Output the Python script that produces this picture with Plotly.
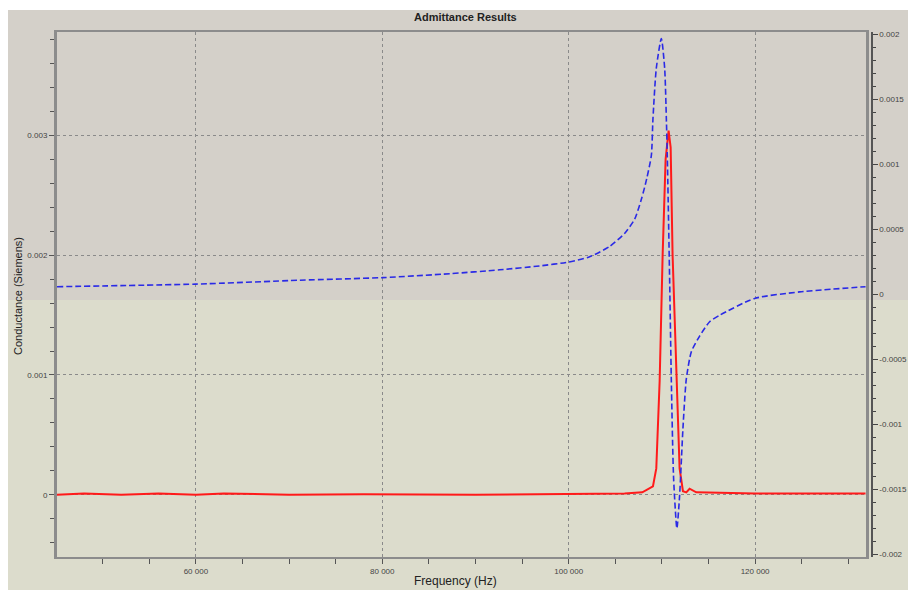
import plotly.graph_objects as go

# Conductance (left axis, Siemens)
g_freq = [45100, 48000, 52000, 56000, 60000, 63000, 70000, 78000, 90000, 100000, 103000,
          106000, 107900, 109040, 109400, 109760, 110080, 110400, 110720, 110940, 111150,
          111550, 111900, 112260, 112620, 112970, 113690, 120000, 131850]
g_val = [0.0, 0.00001, 0.0, 0.00001, 0.0, 0.00001, 0.0, 0.000005, 0.0, 0.000005, 0.00001,
         0.00001, 0.00002, 0.00007, 0.00022, 0.00095, 0.0020, 0.0028, 0.00304, 0.0029, 0.0020,
         0.00095, 0.00022, 0.00003, 0.00002, 0.00005, 0.00002, 0.00001, 0.00001]

# Susceptance (right axis)
b_freq = [45100, 60000, 71150, 80050, 87240, 92600, 96890, 100000, 102250, 104400, 106000,
          107080, 107830, 108370, 108870, 109040, 109400, 109940, 110300, 110480, 110580,
          110830, 111010, 111260, 111610, 111900, 112260, 112620, 113160, 114050, 115120,
          116190, 119950, 124770, 131850]
b_val = [0.00006, 0.00008, 0.00011, 0.00013, 0.00016, 0.00019, 0.00022, 0.00025, 0.00029,
         0.00037, 0.00047, 0.00058, 0.00074, 0.00089, 0.00107, 0.00135, 0.00174, 0.00197,
         0.00174, 0.00135, 0.00107, 0.00012, -0.00065, -0.00142, -0.0018, -0.00155, -0.00103,
         -0.00065, -0.00044, -0.00032, -0.00021, -0.00016, -0.00003, 0.00002, 0.00006]

x_ticks = [60000, 80000, 100000, 120000]
x_ticktext = ["60 000", "80 000", "100 000", "120 000"]
y_ticks = [0, 0.001, 0.002, 0.003]
y_ticktext = ["0", "0.001", "0.002", "0.003"]
y2_ticks = [-0.002, -0.0015, -0.001, -0.0005, 0, 0.0005, 0.001, 0.0015, 0.002]
y2_ticktext = ["-0.002", "-0.0015", "-0.001", "-0.0005", "0", "0.0005", "0.001", "0.0015", "0.002"]

# page margin is removed, so figure pixels equal page pixels
W, H = 908, 590
L, R, T, B = 57, 908 - 872, 32, 590 - 557
plot_w = W - L - R
plot_h = H - T - B

def px_x(p):  # page pixel -> paper coord
    return (p - L) / plot_w

def px_y(p):
    return (H - B - p) / plot_h

upper = "#d4d0c9"
lower = "#dcdccc"
font = "Liberation Sans"

fig = go.Figure()
fig.add_trace(go.Scatter(x=g_freq, y=g_val, mode="lines", line=dict(color="#ff1a1a", width=2),
                         yaxis="y", showlegend=False))
fig.add_trace(go.Scatter(x=b_freq, y=b_val, mode="lines",
                         line=dict(color="#2a2ae6", width=1.6, dash="6px,3px", shape="spline", smoothing=0.6),
                         yaxis="y2", showlegend=False))

shapes = [
    dict(type="rect", xref="paper", yref="paper", x0=px_x(8), x1=px_x(W + 10), y0=px_y(300), y1=px_y(10),
         fillcolor=upper, line=dict(width=0), layer="below"),
    dict(type="rect", xref="paper", yref="paper", x0=px_x(8), x1=px_x(W + 10), y0=px_y(H + 10), y1=px_y(300),
         fillcolor=lower, line=dict(width=0), layer="below"),
]

axis_font = dict(family=font, size=8, color="#444")
fig.update_layout(
    width=W, height=H,
    margin=dict(l=L, r=R, t=T, b=B, autoexpand=False),
    paper_bgcolor="white",
    plot_bgcolor="rgba(0,0,0,0)",
    shapes=shapes,
    xaxis=dict(range=[45100, 131900], domain=[0, (866 - L) / plot_w], automargin=False,
               tickvals=x_ticks, ticktext=x_ticktext, tickfont=axis_font,
               ticks="outside", ticklen=5, tickcolor="#555",
               minor=dict(dtick=5000, tick0=0, ticks="outside", ticklen=5, tickcolor="#555", showgrid=False),
               showgrid=True, gridcolor="#8a8a8a", griddash="dot", gridwidth=1,
               showline=True, linecolor="#8c8c8c", linewidth=2, mirror=True, zeroline=False),
    yaxis=dict(range=[-0.00052, 0.003864], automargin=False,
               tickvals=y_ticks, ticktext=y_ticktext, tickfont=axis_font,
               ticks="outside", ticklen=5, tickcolor="#555",
               minor=dict(dtick=0.0002, tick0=0, ticks="outside", ticklen=4, tickcolor="#555", showgrid=False),
               showgrid=True, gridcolor="#8a8a8a", griddash="dot", gridwidth=1,
               showline=True, linecolor="#8c8c8c", linewidth=3, mirror=True, zeroline=False),
    yaxis2=dict(range=[-0.00202, 0.00202], overlaying="y", side="right", anchor="free", position=1.0,
                automargin=False,
                tickvals=y2_ticks, ticktext=y2_ticktext, tickfont=axis_font,
                ticks="outside", ticklen=5, tickcolor="#444",
                minor=dict(dtick=0.0001, tick0=0, ticks="outside", ticklen=3, tickcolor="#444", showgrid=False),
                showgrid=False, showline=True, linecolor="#555", linewidth=1.5, zeroline=False),
    annotations=[
        dict(text="<b>Admittance Results</b>", xref="paper", yref="paper", x=px_x(465), y=px_y(17),
             showarrow=False, font=dict(family=font, size=11, color="#222"), xanchor="center", yanchor="middle"),
        dict(text="Conductance (Siemens)", xref="paper", yref="paper", x=px_x(18), y=px_y(296),
             showarrow=False, textangle=-90, font=dict(family=font, size=11, color="#222"),
             xanchor="center", yanchor="middle"),
        dict(text="Frequency (Hz)", xref="paper", yref="paper", x=px_x(455), y=px_y(581),
             showarrow=False, font=dict(family=font, size=12, color="#222"), xanchor="center", yanchor="middle"),
    ],
)

fig.write_html("out.html", config={"displayModeBar": False},
               post_script="document.body.style.margin='0px';document.body.style.overflow='hidden';")
